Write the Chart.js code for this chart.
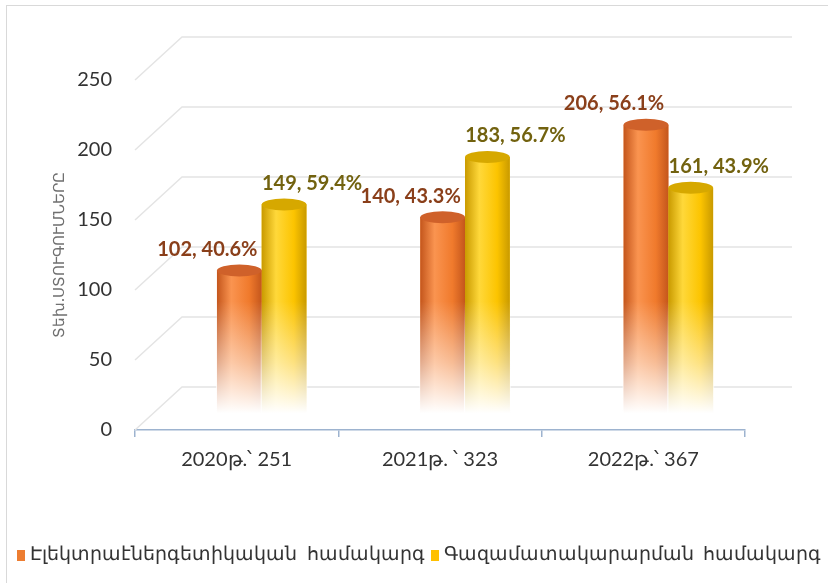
<!DOCTYPE html>
<html>
<head>
<meta charset="utf-8">
<script src="https://cdn.jsdelivr.net/npm/chart.js@4/dist/chart.umd.min.js"></script>
<style>
  html, body { margin: 0; padding: 0; background: #fff; overflow: hidden; }
  #frame { position: absolute; left: 6px; top: 5px; width: 900px; height: 700px; border: 1px solid #d9d9d9; }
  #chart { position: absolute; left: 0; top: 0; }
  #legend { position: absolute; left: 17px; top: 541px; white-space: pre; font: 19px Lato, "Noto Sans", sans-serif; color: #333; }
  #legend span.box { display: inline-block; width: 8px; height: 11px; margin-right: 5px; vertical-align: -1px; }
  #legend span.item { margin-right: 6px; }
</style>
</head>
<body>
<div id="frame"></div>
<canvas id="chart" width="828" height="583"></canvas>
<div id="legend"></div>
<script>
var categories = ['2020թ.՝ 251', '2021թ. ՝ 323', '2022թ.՝ 367'];
var electricValues = [102, 140, 206];
var gasValues = [149, 183, 161];
var electricShares = [40.6, 43.3, 56.1];
var gasShares = [59.4, 56.7, 43.9];
var seriesNames = ['Էլեկտրաէներգետիկական  համակարգ', 'Գազամատակարարման  համակարգ'];
var axisTitle = 'Տեխ.ՍՏՈՒԳՈՒՄՆԵՐԸ';
var yMax = 250;
var yStep = 50;

// 3d look
var DEPTH_X = 47, DEPTH_Y = 43;
var tones = [
  { edge: '#c4561c', light: '#fa9450', mid: '#f07a2c', top: '#cf612a', label: '#8a3f1a', legend: '#ed7d31' },
  { edge: '#c99a00', light: '#ffd83a', mid: '#fcc400', top: '#d6a800', label: '#72620f', legend: '#ffc000' }
];
var shares = [electricShares, gasShares];
var FONT = 'Lato, "Noto Sans", sans-serif';

var cylinders = {
  id: 'cylinders',
  beforeDatasetsDraw: function(chart) {
    var ctx = chart.ctx, y = chart.scales.y, area = chart.chartArea;
    ctx.save();
    ctx.strokeStyle = '#e4e4e4';
    ctx.lineWidth = 1.5;
    y.ticks.forEach(function(t) {
      var py = y.getPixelForValue(t.value);
      ctx.beginPath();
      ctx.moveTo(area.left, py);
      ctx.lineTo(area.left + DEPTH_X, py - DEPTH_Y);
      ctx.lineTo(area.right + DEPTH_X, py - DEPTH_Y);
      ctx.stroke();
    });
    ctx.restore();
  },
  afterDatasetsDraw: function(chart) {
    var ctx = chart.ctx, yb = chart.scales.yb;
    ctx.save();
    chart.data.datasets.forEach(function(ds, di) {
      var tone = tones[di];
      chart.getDatasetMeta(di).data.forEach(function(bar, i) {
        var p = bar.getProps(['x', 'y', 'base', 'width'], true);
        var l = p.x - p.width / 2;
        var g = ctx.createLinearGradient(l, 0, l + p.width, 0);
        g.addColorStop(0, tone.edge);
        g.addColorStop(0.32, tone.light);
        g.addColorStop(0.72, tone.mid);
        g.addColorStop(1, tone.edge);
        ctx.fillStyle = g;
        ctx.fillRect(l, p.y, p.width, p.base - p.y);

        var fadeTop = yb.getPixelForValue(80);
        var f = ctx.createLinearGradient(0, fadeTop, 0, p.base);
        f.addColorStop(0, 'rgba(255,255,255,0)');
        f.addColorStop(0.55, 'rgba(255,255,255,0.5)');
        f.addColorStop(1, 'rgba(255,255,255,1)');
        var ft = Math.max(fadeTop, p.y);
        ctx.fillStyle = f;
        ctx.fillRect(l - 1, ft, p.width + 2, p.base - ft + 1);

        ctx.beginPath();
        ctx.ellipse(p.x, p.y, p.width / 2, 6, 0, 0, Math.PI * 2);
        ctx.fillStyle = tone.top;
        ctx.fill();

        var txt = ds.data[i].y + ', ' + shares[di][i].toFixed(1) + '%';
        ctx.font = 'bold 20px ' + FONT;
        ctx.textAlign = 'center';
        ctx.textBaseline = 'middle';
        ctx.fillStyle = tone.label;
        ctx.fillText(txt, p.x + (di === 0 ? -32 : 28), p.y - 21);
      });
    });
    ctx.restore();
  }
};

function points(values) {
  return values.map(function(v, i) { return { x: i, y: v }; });
}

var shift = 25 / 203;

var chart = new Chart(document.getElementById('chart'), {
  type: 'bar',
  data: {
    labels: categories,
    datasets: [
      { label: seriesNames[0], data: points(electricValues), xAxisID: 'xb', yAxisID: 'yb',
        backgroundColor: tones[0].mid, borderWidth: 0, barPercentage: 1, categoryPercentage: 0.44 },
      { label: seriesNames[1], data: points(gasValues), xAxisID: 'xb', yAxisID: 'yb',
        backgroundColor: tones[1].mid, borderWidth: 0, barPercentage: 1, categoryPercentage: 0.44 }
    ]
  },
  options: {
    responsive: false,
    animation: false,
    layout: { padding: { left: 0, top: 80, right: 83, bottom: 103 } },
    plugins: { legend: { display: false }, tooltip: { enabled: false } },
    scales: {
      x: {
        type: 'category',
        offset: true,
        afterFit: function(s) { s.height = 50; },
        border: { display: true, color: '#9db3cf', width: 1.5 },
        grid: { offset: true, drawOnChartArea: false, drawTicks: true, tickLength: 7, color: '#9db3cf', lineWidth: 1.5 },
        ticks: { color: '#333', padding: 11, font: { size: 20, family: FONT } }
      },
      xb: { type: 'linear', display: false, offset: false, min: -0.5 - shift, max: 2.5 - shift,
        ticks: { stepSize: 1, includeBounds: false } },
      y: {
        min: 0, max: yMax,
        afterFit: function(s) { s.width = 135; },
        border: { display: false },
        grid: { display: false, drawTicks: false },
        ticks: { stepSize: yStep, color: '#333', padding: 23, font: { size: 20, family: FONT } },
        title: { display: true, text: axisTitle, color: '#707070', padding: { top: 51, bottom: 0 }, font: { size: 15, family: '"Noto Sans", sans-serif' } }
      },
      yb: { display: false, min: -12, max: yMax - 12 }
    }
  },
  plugins: [cylinders]
});

var legend = document.getElementById('legend');
chart.data.datasets.forEach(function(ds, i) {
  var item = document.createElement('span');
  item.className = 'item';
  var box = document.createElement('span');
  box.className = 'box';
  box.style.background = tones[i].legend;
  item.appendChild(box);
  item.appendChild(document.createTextNode(ds.label));
  legend.appendChild(item);
});
</script>
</body>
</html>
